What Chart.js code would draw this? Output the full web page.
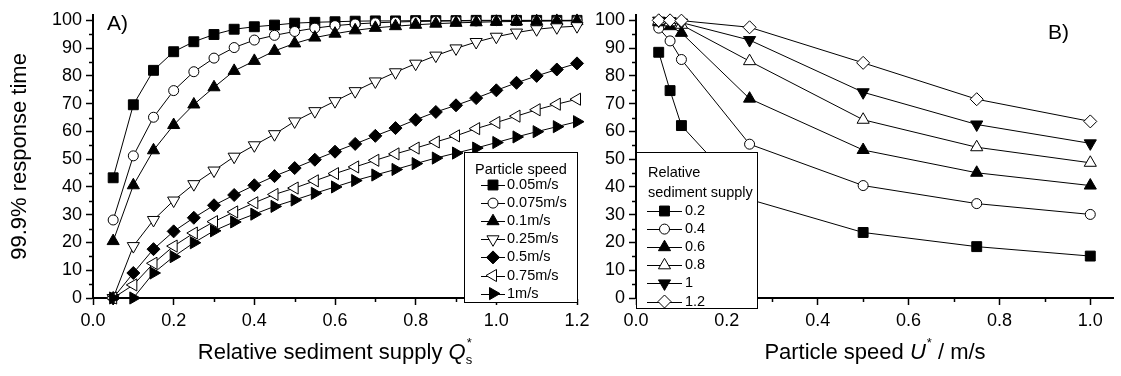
<!DOCTYPE html>
<html>
<head>
<meta charset="utf-8">
<script src="https://cdn.jsdelivr.net/npm/chart.js@4.4.1/dist/chart.umd.min.js"></script>
<style>
  html, body { margin: 0; padding: 0; background: #fff; }
  body { width: 1121px; height: 376px; position: relative; overflow: hidden; }
  canvas { position: absolute; top: 0; }
  #cA { left: 0; }
  #cB { left: 590px; }
</style>
</head>
<body>
<canvas id="cA" width="600" height="376"></canvas>
<canvas id="cB" width="531" height="376"></canvas>
<script>
// ---------------- DATA ----------------
// Panel A: x = relative sediment supply Qs*
const supplyCategoriesA = [0.05, 0.1, 0.15, 0.2, 0.25, 0.3, 0.35, 0.4, 0.45, 0.5, 0.55, 0.6,
                           0.65, 0.7, 0.75, 0.8, 0.85, 0.9, 0.95, 1.0, 1.05, 1.1, 1.15, 1.2];
const speedLabelsA = ['0.05m/s', '0.075m/s', '0.1m/s', '0.25m/s', '0.5m/s', '0.75m/s', '1m/s'];
const speed005 = [43.3, 69.6, 82.0, 88.7, 92.3, 94.9, 96.8, 97.7, 98.3, 99.0, 99.3, 99.5,
                  99.7, 99.8, 99.8, 99.9, 99.9, 99.9, 100, 100, 100, 100, 100, 100];
const speed0075 = [28.1, 51.2, 65.1, 74.7, 81.5, 86.4, 90.2, 92.9, 94.6, 96.0, 97.2, 98.1,
                   98.7, 99.1, 99.4, 99.6, 99.7, 99.8, 99.8, 99.9, 99.9, 99.9, 99.9, 100];
const speed01 = [20.5, 40.6, 53.2, 62.3, 69.7, 75.9, 81.8, 85.4, 89.0, 91.7, 93.8, 95.2,
                 96.4, 97.3, 97.9, 98.4, 98.8, 99.1, 99.3, 99.5, 99.6, 99.7, 99.8, 99.8];
const speed025 = [0, 18.7, 28.1, 35.1, 41.0, 45.9, 50.9, 55.0, 59.0, 63.6, 67.3, 70.9,
                  74.5, 78.0, 81.3, 84.4, 87.3, 89.9, 92.2, 94.1, 95.6, 96.8, 97.5, 97.9];
const speed05 = [0, 9.0, 17.6, 24.0, 28.9, 33.4, 37.1, 40.6, 43.9, 46.8, 49.8, 52.7,
                 55.5, 58.4, 61.2, 64.2, 67.0, 69.4, 72.0, 74.8, 77.5, 80.0, 82.3, 84.5];
const speed075 = [0, 4.7, 12.5, 18.7, 23.4, 27.5, 31.0, 34.3, 37.3, 39.6, 42.2, 44.8,
                  47.2, 49.6, 51.9, 54.0, 56.2, 58.4, 61.0, 63.2, 65.5, 67.8, 69.8, 71.6];
const speed1 = [0, 0, 9.0, 14.9, 19.9, 24.2, 27.4, 30.2, 33.0, 35.3, 37.7, 40.0,
                42.3, 44.3, 46.3, 48.4, 50.4, 52.2, 54.0, 56.0, 58.0, 59.9, 61.7, 63.5];

// Panel B: x = particle speed U* (m/s)
const speedCategoriesB = [0.05, 0.075, 0.1, 0.25, 0.5, 0.75, 1.0];
const supplyLabelsB = ['0.2', '0.4', '0.6', '0.8', '1', '1.2'];
const supply02 = [88.5, 74.7, 62.1, 35.5, 23.6, 18.5, 15.1];
const supply04 = [97.2, 92.6, 85.9, 55.4, 40.5, 34.0, 30.1];
const supply06 = [99.3, 97.9, 95.5, 71.8, 53.3, 45.1, 40.5];
const supply08 = [99.8, 99.3, 98.4, 85.3, 64.2, 54.3, 48.7];
const supply10 = [99.9, 99.7, 99.2, 92.9, 74.1, 62.5, 55.7];
const supply12 = [100, 100, 99.9, 97.5, 84.7, 71.6, 63.6];

// Tick labels
const xTickValuesA = [0, 0.2, 0.4, 0.6, 0.8, 1.0, 1.2];
const xTickLabelsA = ['0.0', '0.2', '0.4', '0.6', '0.8', '1.0', '1.2'];
const xTickValuesB = [0, 0.2, 0.4, 0.6, 0.8, 1.0];
const xTickLabelsB = ['0.0', '0.2', '0.4', '0.6', '0.8', '1.0'];
const yTickValues = [0, 10, 20, 30, 40, 50, 60, 70, 80, 90, 100];
const yTickLabels = ['0', '10', '20', '30', '40', '50', '60', '70', '80', '90', '100'];
const xMinorA = [0.1, 0.3, 0.5, 0.7, 0.9, 1.1];
const xMinorB = [0.1, 0.3, 0.5, 0.7, 0.9];
const yMinor = [5, 15, 25, 35, 45, 55, 65, 75, 85, 95];

// ---------------- STYLE ----------------
const FONT = '"Liberation Sans", Arial, Helvetica, sans-serif';
const markerStylesA = [
  {style: 'rect', radius: 7, rot: 0, fill: '#000'},
  {style: 'circle', radius: 5, rot: 0, fill: '#fff'},
  {style: 'triangle', radius: 7, rot: 0, fill: '#000'},
  {style: 'triangle', radius: 7, rot: 180, fill: '#fff'},
  {style: 'rectRot', radius: 6.5, rot: 0, fill: '#000'},
  {style: 'triangle', radius: 7, rot: 270, fill: '#fff'},
  {style: 'triangle', radius: 7, rot: 90, fill: '#000'}
];
const markerStylesB = [
  {style: 'rect', radius: 7, rot: 0, fill: '#000'},
  {style: 'circle', radius: 5, rot: 0, fill: '#fff'},
  {style: 'triangle', radius: 7, rot: 0, fill: '#000'},
  {style: 'triangle', radius: 7, rot: 0, fill: '#fff'},
  {style: 'triangle', radius: 7, rot: 180, fill: '#000'},
  {style: 'rectRot', radius: 6.5, rot: 0, fill: '#fff'}
];

function makeDatasets(xs, seriesList, labels, styles) {
  const n = seriesList.length;
  return seriesList.map((vals, i) => ({
    label: labels[i],
    data: xs.map((x, j) => ({x: x, y: vals[j]})),
    borderColor: '#000',
    borderWidth: 1,
    tension: 0,
    fill: false,
    pointStyle: styles[i].style,
    pointRadius: styles[i].radius,
    pointHoverRadius: styles[i].radius,
    pointRotation: styles[i].rot,
    pointBackgroundColor: styles[i].fill,
    pointBorderColor: '#000',
    pointBorderWidth: 1,
    clip: false,
    order: n - i
  }));
}

function drawMinorTicks(ctx, xs, ys, xMinor) {
  ctx.save();
  ctx.strokeStyle = '#000';
  ctx.lineWidth = 1.5;
  ctx.beginPath();
  xMinor.forEach(v => {
    const px = Math.round(xs.getPixelForValue(v)) + 0.5;
    ctx.moveTo(px, ys.bottom);
    ctx.lineTo(px, ys.bottom + 4);
  });
  yMinor.forEach(v => {
    const py = Math.round(ys.getPixelForValue(v)) + 0.5;
    ctx.moveTo(xs.left, py);
    ctx.lineTo(xs.left - 4, py);
  });
  ctx.stroke();
  ctx.restore();
}

function drawLegend(ctx, chart, box, titleLines, titleX, titleY0, entryY0, lineX0, lineX1, textX, styles) {
  ctx.save();
  ctx.fillStyle = '#fff';
  ctx.fillRect(box.x, box.y, box.w, box.h);
  ctx.strokeStyle = '#000';
  ctx.lineWidth = 1;
  ctx.strokeRect(box.x + 0.5, box.y + 0.5, box.w, box.h);
  ctx.fillStyle = '#000';
  ctx.font = '14.5px ' + FONT;
  ctx.textBaseline = 'middle';
  ctx.textAlign = 'left';
  titleLines.forEach((t, k) => ctx.fillText(t, titleX, titleY0 + k * 20));
  const step = 18.1;
  chart.data.datasets.forEach((ds, i) => {
    const y = entryY0 + i * step;
    ctx.beginPath();
    ctx.strokeStyle = '#000';
    ctx.lineWidth = 1;
    ctx.moveTo(lineX0, Math.round(y) + 0.5);
    ctx.lineTo(lineX1, Math.round(y) + 0.5);
    ctx.stroke();
    ctx.fillStyle = styles[i].fill;
    ctx.strokeStyle = '#000';
    ctx.lineWidth = 1;
    Chart.helpers.drawPoint(ctx, {pointStyle: styles[i].style, radius: styles[i].radius,
      rotation: styles[i].rot, borderWidth: 1}, (lineX0 + lineX1) / 2, y);
    ctx.fillStyle = '#000';
    ctx.fillText(ds.label, textX, y);
  });
  ctx.restore();
}

function drawRichTitle(ctx, cx, baseline, main, italic, sup, sub, tail) {
  ctx.save();
  ctx.fillStyle = '#000';
  ctx.textBaseline = 'alphabetic';
  ctx.textAlign = 'left';
  const fMain = '22px ' + FONT, fIt = 'italic 22px ' + FONT, fSmall = '13px ' + FONT;
  ctx.font = fMain; const wMain = ctx.measureText(main).width;
  ctx.font = fIt; const wIt = ctx.measureText(italic).width;
  ctx.font = fSmall;
  const wSup = sup ? ctx.measureText(sup).width : 0;
  const wSub = sub ? ctx.measureText(sub).width : 0;
  ctx.font = fMain; const wTail = tail ? ctx.measureText(tail).width : 0;
  const total = wMain + wIt + Math.max(wSup, wSub) + wTail;
  let x = cx - total / 2;
  ctx.font = fMain; ctx.fillText(main, x, baseline); x += wMain;
  ctx.font = fIt; ctx.fillText(italic, x, baseline); x += wIt;
  ctx.font = fSmall;
  if (sup) ctx.fillText(sup, x + 1, baseline - 12);
  if (sub) ctx.fillText(sub, x, baseline + 5);
  x += Math.max(wSup, wSub) + 1;
  if (tail) { ctx.font = fMain; ctx.fillText(tail, x, baseline); }
  ctx.restore();
}

function panelLabel(ctx, text, x, y) {
  ctx.save();
  ctx.fillStyle = '#000';
  ctx.font = '21px ' + FONT;
  ctx.textBaseline = 'middle';
  ctx.textAlign = 'left';
  ctx.fillText(text, x, y);
  ctx.restore();
}

function axisOptions(xMax, xVals, xLabels, yWidth, withYTitle) {
  const common = {
    border: {display: true, color: '#000', width: 2},
    grid: {display: true, drawOnChartArea: false, drawTicks: true, tickLength: 7,
           tickColor: '#000', tickWidth: 1.5}
  };
  return {
    x: Object.assign({}, common, {
      type: 'linear', min: 0, max: xMax,
      afterFit(s) { s.height = 78; },
      afterBuildTicks(s) { s.ticks = xVals.map(v => ({value: v})); },
      ticks: {color: '#000', font: {family: FONT, size: 18}, padding: 5, maxRotation: 0,
              autoSkip: false, callback: (v, i) => xLabels[i]}
    }),
    y: Object.assign({}, common, {
      type: 'linear', min: 0, max: 102,
      afterFit(s) { s.width = yWidth; },
      afterBuildTicks(s) { s.ticks = yTickValues.map(v => ({value: v})); },
      ticks: {color: '#000', font: {family: FONT, size: 18}, padding: 4, autoSkip: false,
              callback: (v, i) => yTickLabels[i]},
      title: {display: withYTitle, text: '99.9% response time', color: '#000',
              font: {family: FONT, size: 22}, padding: {top: 7, bottom: 0}}
    })
  };
}

// ---------------- CHART A ----------------
const decorA = {
  id: 'decorA',
  afterDraw(chart) {
    const ctx = chart.ctx, xs = chart.scales.x, ys = chart.scales.y;
    drawMinorTicks(ctx, xs, ys, xMinorA);
    drawLegend(ctx, chart, {x: 464, y: 152, w: 113, h: 150}, ['Particle speed'], 475, 170,
               185, 481, 505, 507, markerStylesA);
    drawRichTitle(ctx, (xs.left + xs.right) / 2, 359, 'Relative sediment supply ', 'Q', '*', 's', '');
    panelLabel(ctx, 'A)', 107, 24);
  }
};

new Chart(document.getElementById('cA'), {
  type: 'line',
  data: {datasets: makeDatasets(supplyCategoriesA,
    [speed005, speed0075, speed01, speed025, speed05, speed075, speed1], speedLabelsA, markerStylesA)},
  options: {
    animation: false, responsive: false, devicePixelRatio: 1,
    layout: {padding: {left: 0, right: 23, top: 7, bottom: 0}},
    plugins: {legend: {display: false}, tooltip: {enabled: false}},
    scales: axisOptions(1.2, xTickValuesA, xTickLabelsA, 93, true)
  },
  plugins: [decorA]
});

// ---------------- CHART B ----------------
const decorB = {
  id: 'decorB',
  afterDraw(chart) {
    const ctx = chart.ctx, xs = chart.scales.x, ys = chart.scales.y;
    drawMinorTicks(ctx, xs, ys, xMinorB);
    drawLegend(ctx, chart, {x: 46, y: 152, w: 121, h: 156}, ['Relative', 'sediment supply'], 58, 173,
               211, 57, 92, 95, markerStylesB);
    drawRichTitle(ctx, (xs.left + xs.right) / 2, 359, 'Particle speed ', 'U', '*', '', ' / m/s');
    panelLabel(ctx, 'B)', 458, 33);
  }
};

new Chart(document.getElementById('cB'), {
  type: 'line',
  data: {datasets: makeDatasets(speedCategoriesB,
    [supply02, supply04, supply06, supply08, supply10, supply12], supplyLabelsB, markerStylesB)},
  options: {
    animation: false, responsive: false, devicePixelRatio: 1,
    layout: {padding: {left: 0, right: 2, top: 7, bottom: 0}},
    plugins: {legend: {display: false}, tooltip: {enabled: false}},
    scales: axisOptions(1.05, xTickValuesB, xTickLabelsB, 46, false)
  },
  plugins: [decorB]
});
</script>
</body>
</html>
